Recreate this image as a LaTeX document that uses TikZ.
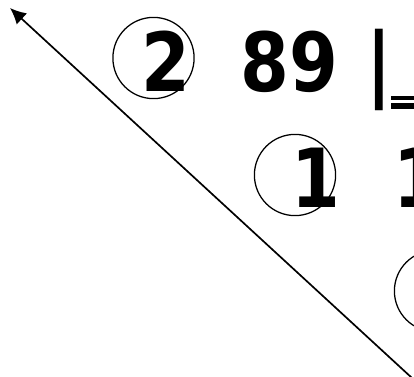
\documentclass[tikz,border=0pt]{standalone}
\usepackage{fontspec}
\newfontfamily\digitfont{DejaVu Sans}[FakeStretch=0.86]
\usetikzlibrary{arrows.meta}

\begin{document}
\begin{tikzpicture}[x=0.025cm,y=-0.025cm,digit/.style={font=\digitfont\bfseries\fontsize{58}{60}\selectfont,inner sep=0,anchor=base west},ring/.style={circle,draw=black,line width=0.9pt,minimum size=2.03cm,inner sep=0},arrow/.style={-{Latex[length=4mm,width=3.8mm]},line width=1.2pt}]
\useasboundingbox(0,0)rectangle(414,376);
\clip(0,0)rectangle(414,376);
\node[ring](ringa)at(153.5,58){};
\node[ring](ringb)at(295,175){};
\node[ring](ringc)at(435,291){};
\node[digit](two)at(141,91.5){2};
\node[digit](dividend)at(240.5,91.5){89};
\node[digit](bar)at(366,91.5){|};
\node[digit](onea)at(291.5,207){1};
\node[digit](oneb)at(393.5,207){1};
\fill(391,96)rectangle(416,99.5);\fill(391,103)rectangle(416,109);
\coordinate(tail)at(412,378);\coordinate(head)at(10,8);
\draw[arrow](tail)--(head);
\end{tikzpicture}
\end{document}
